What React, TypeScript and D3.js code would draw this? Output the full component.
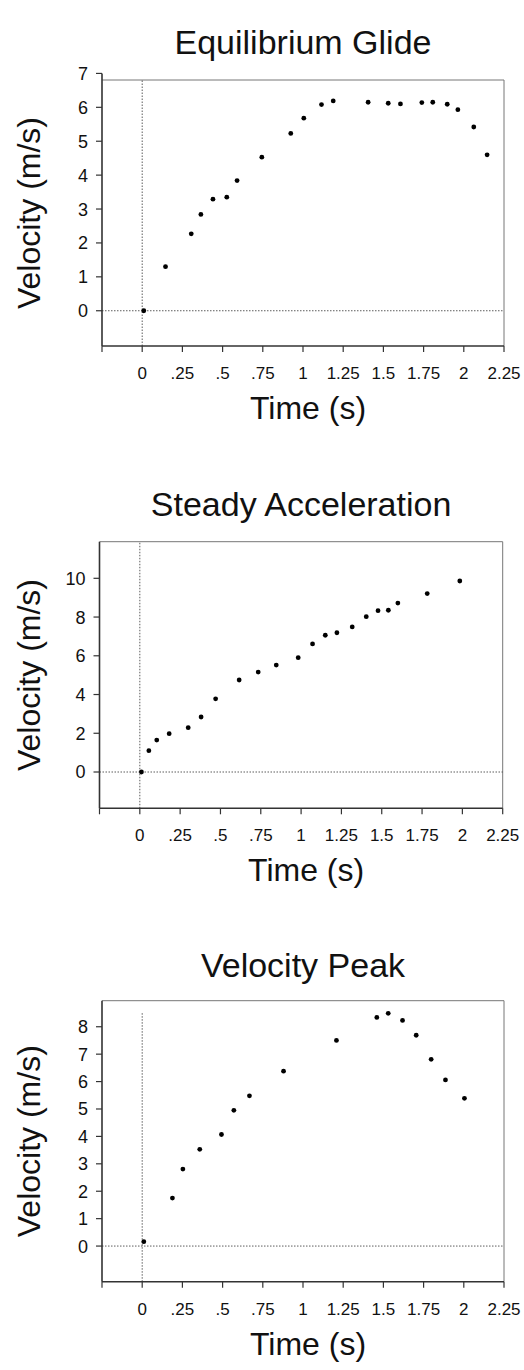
import React from 'react'
import * as d3 from 'd3'

// velocity readings, one pair of arrays per panel
const glideTime = [0.01, 0.145, 0.305, 0.365, 0.44, 0.526, 0.59, 0.744, 0.924, 1.005, 1.115, 1.188, 1.405, 1.53, 1.606, 1.739, 1.807, 1.897, 1.963, 2.062, 2.145]
const glideVel = [0, 1.3, 2.27, 2.84, 3.29, 3.35, 3.84, 4.53, 5.23, 5.68, 6.08, 6.19, 6.15, 6.12, 6.1, 6.14, 6.15, 6.09, 5.93, 5.42, 4.6]

const accelTime = [0.01, 0.056, 0.105, 0.182, 0.3, 0.38, 0.47, 0.616, 0.734, 0.846, 0.982, 1.071, 1.15, 1.222, 1.317, 1.404, 1.477, 1.541, 1.6, 1.782, 1.984]
const accelVel = [0, 1.1, 1.65, 1.98, 2.29, 2.84, 3.78, 4.75, 5.16, 5.52, 5.9, 6.61, 7.06, 7.19, 7.49, 8.02, 8.33, 8.35, 8.72, 9.21, 9.86]

const peakTime = [0.01, 0.188, 0.253, 0.358, 0.493, 0.57, 0.667, 0.879, 1.208, 1.459, 1.53, 1.619, 1.704, 1.797, 1.886, 2.004]
const peakVel = [0.16, 1.75, 2.81, 3.53, 4.07, 4.95, 5.48, 6.38, 7.5, 8.34, 8.49, 8.23, 7.69, 6.81, 6.06, 5.39]

const timeTicks = [-0.25, 0, 0.25, 0.5, 0.75, 1, 1.25, 1.5, 1.75, 2, 2.25]
const timeLabels = ['', '0', '.25', '.5', '.75', '1', '1.25', '1.5', '1.75', '2', '2.25']

const glideTicks = [0, 1, 2, 3, 4, 5, 6, 7]
const accelTicks = [0, 2, 4, 6, 8, 10]
const peakTicks = [0, 1, 2, 3, 4, 5, 6, 7, 8]

const font = '"Liberation Sans", Arial, Helvetica, sans-serif'
const ink = '#111'

function Panel({ title, times, vels, yTicks, yDomain, left, right, top, bottom, titleY, axisTopVal, vLineTop }) {
  const x = d3.scaleLinear().domain([-0.25, 2.25]).range([left, right])
  const y = d3.scaleLinear().domain(yDomain).range([bottom, top])
  const mid = (left + right) / 2
  const axisTop = axisTopVal != null ? Math.min(y(axisTopVal), top) : top
  const vTop = vLineTop != null ? y(vLineTop) : top
  const pts = d3.zip(times, vels)

  return (
    <g>
      <text x={mid} y={titleY} textAnchor="middle" fontSize={34} fontFamily={font} fill={ink}>{title}</text>

      {/* frame */}
      <line x1={left} x2={right} y1={top} y2={top} stroke="#777" strokeWidth={1} />
      <line x1={right} x2={right} y1={top} y2={bottom} stroke="#777" strokeWidth={1} />

      {/* zero reference lines */}
      <line x1={left} x2={right} y1={y(0)} y2={y(0)} stroke="#333" strokeWidth={0.8} strokeDasharray="1.5,1.5" />
      <line x1={x(0)} x2={x(0)} y1={bottom} y2={vTop} stroke="#333" strokeWidth={0.8} strokeDasharray="1.5,1.5" />

      <line x1={left} x2={left} y1={bottom} y2={axisTop} stroke="#333" strokeWidth={1.6} />
      <line x1={left} x2={right} y1={bottom} y2={bottom} stroke="#333" strokeWidth={1.6} />

      {timeTicks.map((t, i) => (
        <g key={'xt' + i}>
          <line x1={x(t)} x2={x(t)} y1={bottom} y2={bottom + 6} stroke="#333" strokeWidth={1.2} />
          <text x={x(t)} y={bottom + 33} textAnchor="middle" fontSize={17} fontFamily={font} fill={ink}>{timeLabels[i]}</text>
        </g>
      ))}

      {yTicks.map(v => (
        <g key={'yt' + v}>
          <line x1={left - 6} x2={left} y1={y(v)} y2={y(v)} stroke="#333" strokeWidth={1.2} />
          <text x={left - 14} y={y(v)} dy="0.36em" textAnchor="end" fontSize={18} fontFamily={font} fill={ink}>{v}</text>
        </g>
      ))}

      {pts.map(([t, v], i) => (
        <circle key={'p' + i} cx={x(t)} cy={y(v)} r={2.4} fill="#000" />
      ))}

      <text x={mid + 5} y={bottom + 73} textAnchor="middle" fontSize={32} fontFamily={font} fill={ink}>Time (s)</text>
      <text transform={`translate(40, ${(top + bottom) / 2}) rotate(-90)`} textAnchor="middle" fontSize={32} fontFamily={font} fill={ink}>Velocity (m/s)</text>
    </g>
  )
}

export default function App() {
  return (
    <svg width={524} height={1370} style={{ position: 'absolute', left: 0, top: 0, background: '#fff' }}>
      <rect width={524} height={1370} fill="#fff" />
      <Panel title="Equilibrium Glide" times={glideTime} vels={glideVel} yTicks={glideTicks}
        yDomain={[-1.04, 6.806]} left={102} right={504} top={80} bottom={346} titleY={54} axisTopVal={7} />
      <Panel title="Steady Acceleration" times={accelTime} vels={accelVel} yTicks={accelTicks}
        yDomain={[-1.874, 11.89]} left={99.5} right={502.7} top={541.7} bottom={808.3} titleY={516} />
      <Panel title="Velocity Peak" times={peakTime} vels={peakVel} yTicks={peakTicks}
        yDomain={[-1.3, 8.95]} left={102} right={504} top={1000.7} bottom={1281.7} titleY={977} vLineTop={8.5} />
    </svg>
  )
}
